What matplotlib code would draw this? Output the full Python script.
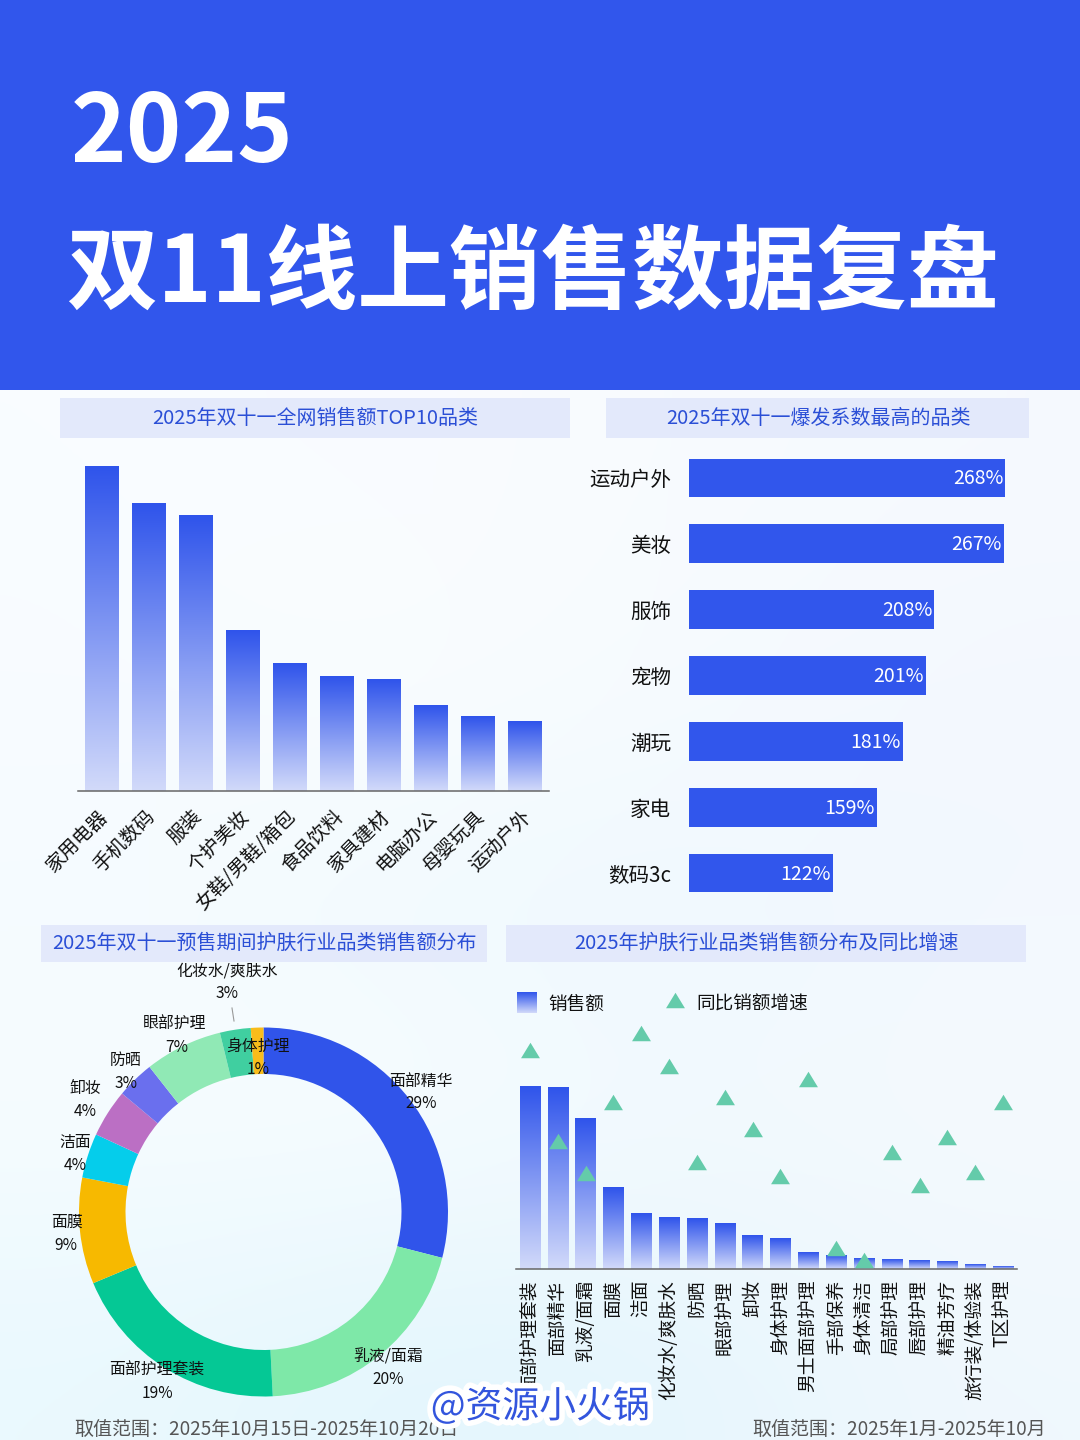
import numpy as np
import matplotlib
matplotlib.use("Agg")
import matplotlib.pyplot as plt
from matplotlib.colors import LinearSegmentedColormap, to_rgb
from matplotlib.patches import Rectangle
from matplotlib.transforms import offset_copy
import matplotlib.patheffects as pe

plt.rcParams['font.family'] = ['Noto Sans CJK SC', 'DejaVu Sans']

W, H = 1080, 1440
# ---------- data ----------
top10_names = ['家用电器', '手机数码', '服装', '个护美妆', '女鞋/男鞋/箱包', '食品饮料', '家具建材', '电脑办公', '母婴玩具', '运动户外']
top10_values = [100, 88.5, 84.8, 49.4, 39.3, 35.4, 34.4, 26.4, 22.8, 21.5]

burst_names = ['运动户外', '美妆', '服饰', '宠物', '潮玩', '家电', '数码3c']
burst_values = [268, 267, 208, 201, 181, 159, 122]

donut_names = ['面部精华', '乳液/面霜', '面部护理套装', '面膜', '洁面', '卸妆', '防晒', '眼部护理', '化妆水/爽肤水', '身体护理']
donut_values = [29, 20.2, 19.5, 9.3, 3.9, 4.2, 3.3, 6.8, 2.7, 1.1]
donut_pct = ['29%', '20%', '19%', '9%', '4%', '4%', '3%', '7%', '3%', '1%']
donut_colors = ['#3054EA', '#7EE8A8', '#05C895', '#F7B900', '#05CDEB', '#BB6FC4', '#6A6FEE', '#90E9B5', '#40CFA0', '#F9BC1A']

skin_names = ['面部护理套装', '面部精华', '乳液/面霜', '面膜', '洁面', '化妆水/爽肤水', '防晒', '眼部护理', '卸妆', '身体护理',
              '男士面部护理', '手部保养', '身体清洁', '局部护理', '唇部护理', '精油芳疗', '旅行装/体验装', 'T区护理']
skin_sales = [182.7, 181.7, 150.3, 81.7, 55.7, 51, 50.3, 46, 33.7, 31, 16.3, 13.3, 10.7, 9.7, 8.3, 7.7, 4.3, 2.7]
skin_growth = [219, 128, 95.7, 166.3, 235.7, 202.3, 106.7, 171.3, 139.7, 92.3, 189.7, 20.3, 8.7, 117, 84, 131.3, 97, 166.3]

BLUE = '#3156EC'
cmap = LinearSegmentedColormap.from_list('bar', ['#D2DAFA', '#2F54EB'])
grad = np.linspace(0, 1, 256).reshape(-1, 1)


def axpx(l, t, r, b, **kw):
    return fig.add_axes([l / W, 1 - b / H, (r - l) / W, (b - t) / H], **kw)


def grad_bars(ax, bars):
    for b in bars:
        x, y, w, h = b.get_x(), b.get_y(), b.get_width(), b.get_height()
        b.set_facecolor('none')
        b.set_edgecolor('none')
        ax.imshow(grad, extent=(x, x + w, y, y + h), origin='lower', aspect='auto', cmap=cmap, zorder=2)


fig = plt.figure(figsize=(W / 100, H / 100), dpi=100)

# ---------- background ----------
bg = axpx(0, 0, W, H, zorder=0)
bg_grid = np.array([[to_rgb(c) for c in row] for row in [
    ['#F9FCFF', '#FAFCFF', '#F8FBFF', '#F6FAFF'],
    ['#F8FCFF', '#FAFDFF', '#F6FBFF', '#F3F8FE'],
    ['#F5FBFF', '#F0FAFF', '#EEF8FE', '#F3F9FE'],
    ['#F7FCFF', '#F9FDFF', '#F3FAFE', '#F5FAFE'],
    ['#EAF9FE', '#E3F6FD', '#E6F6FD', '#F0F8FE'],
]])
bg.imshow(bg_grid, extent=(0, W, H, 390), aspect='auto', interpolation='bicubic')
bg.set_xlim(0, W)
bg.set_ylim(H, 0)
bg.axis('off')
bg.add_patch(Rectangle((0, 0), W, 390, color=BLUE, lw=0))
bands = [(60, 398, 570, 438), (606, 398, 1029, 438), (41, 925, 487, 962), (506, 925, 1026, 962)]
for l, t, r, b in bands:
    bg.add_patch(Rectangle((l, t), r - l, b - t, color='#E3E9FB', lw=0))

# ---------- chart 1 ----------
ax1 = axpx(78, 450, 549, 791, zorder=2)
ax1.patch.set_alpha(0)
x1 = np.arange(len(top10_names))
grad_bars(ax1, ax1.bar(x1, top10_values, width=0.72))
ax1.set_xlim(-0.5, 9.5)
ax1.set_ylim(0, 105)
ax1.set_yticks([])
ax1.set_xticks(x1)
ax1.set_xticklabels(top10_names, rotation=45, ha='right', va='center', rotation_mode='anchor', fontsize=14, color='#111111')
ax1.tick_params(axis='x', length=0, pad=16)
for lab in ax1.get_xticklabels():
    lab.set_transform(offset_copy(lab.get_transform(), fig=fig, x=3, y=0, units='dots'))
for s in ['top', 'left', 'right']:
    ax1.spines[s].set_visible(False)
ax1.spines['bottom'].set_color('#666666')
ax1.spines['bottom'].set_linewidth(1.1)

# ---------- chart 2 ----------
ax2 = axpx(689, 445, 1029, 906, zorder=2)
ax2.patch.set_alpha(0)
y2 = np.arange(len(burst_names))
ax2.barh(y2, burst_values, height=0.59, color=BLUE)
ax2.set_xlim(0, 340 / 1.18)
ax2.set_ylim(6.5, -0.5)
ax2.set_xticks([])
ax2.set_yticks(y2)
ax2.set_yticklabels(burst_names, fontsize=14.8, color='#111111')
ax2.tick_params(axis='y', length=0, pad=13)
for s in ax2.spines.values():
    s.set_visible(False)
for yy, v in zip(y2, burst_values):
    ax2.annotate(f'{v}%', (v, yy), xytext=(-1.5, -0.7), textcoords='offset points', ha='right', va='center', color='white', fontsize=14)

# ---------- donut ----------
ax3 = axpx(79, 1027.5, 448, 1396.5, zorder=2)
ax3.pie(donut_values, colors=donut_colors, startangle=90, counterclock=False, radius=1,
        wedgeprops=dict(width=1 - 138 / 184.5, linewidth=0))
ax3.set_xlim(-1, 1)
ax3.set_ylim(-1, 1)

# ---------- combo ----------
ax4 = axpx(516, 975, 1017, 1268.7, zorder=2)
ax4.patch.set_alpha(0)
x4 = np.arange(len(skin_names))
grad_bars(ax4, ax4.bar(x4, skin_sales, width=0.73))
ax4.set_xlim(-0.5, 17.5)
ax4.set_ylim(0, 293.7)
ax4.set_yticks([])
ax4.set_xticks(x4)
ax4.set_xticklabels(skin_names, rotation=90, ha='center', va='top', fontsize=13.5, color='#111111')
ax4.tick_params(axis='x', length=0, pad=8)
for s in ['top', 'left', 'right']:
    ax4.spines[s].set_visible(False)
ax4.spines['bottom'].set_color('#666666')
ax4.spines['bottom'].set_linewidth(1.1)
ax4b = ax4.twinx()
ax4b.set_ylim(0, 293.7)
ax4b.set_yticks([])
for s in ax4b.spines.values():
    s.set_visible(False)
tri = [(-1, -0.82), (1, -0.82), (0, 0.82)]
TRI = '#64CBAA'
ax4b.scatter(x4, skin_growth, marker=tri, s=185, color=TRI, linewidths=0, clip_on=False, zorder=5)

# ---------- text layer ----------
top = axpx(0, 0, W, H, zorder=10)
top.set_xlim(0, W)
top.set_ylim(H, 0)
top.axis('off')
top.patch.set_alpha(0)

top.text(71, 134, '2025', color='white', fontsize=68, fontweight='bold', ha='left', va='center')
top.text(66, 275, '双11线上销售数据复盘', color='white', fontsize=66, fontweight='bold', ha='left', va='center')

TBLUE = '#2B4FD6'
band_titles = ['2025年双十一全网销售额TOP10品类', '2025年双十一爆发系数最高的品类', '2025年双十一预售期间护肤行业品类销售额分布', '2025年护肤行业品类销售额分布及同比增速']
band_centers = [(315, 419), (818, 419), (264, 943), (766, 943)]
for s, (cx, cy) in zip(band_titles, band_centers):
    top.text(cx, cy, s, color=TBLUE, fontsize=14.4, ha='center', va='center')

label_pos = [(421, 1081), (388, 1357), (157, 1370), (67, 1222), (75, 1142), (85, 1088), (126, 1060), (175, 1024), (227, 971), (258, 1046)]
pct_pos = [(421, 1104), (388, 1380), (157, 1393), (66, 1246), (75, 1165), (85, 1112), (126, 1083), (177, 1047), (227, 994), (258, 1069)]
for n, p, a, b in zip(donut_names, donut_pct, label_pos, pct_pos):
    top.text(a[0], a[1], n, fontsize=11.4, ha='center', va='center', color='#111111')
    top.text(b[0], b[1], p, fontsize=11.2, ha='center', va='center', color='#111111')
top.plot([232, 234], [1008, 1021], color='#999999', lw=0.8)

# legend
lg = axpx(517, 992, 537, 1013, zorder=10)
lg.imshow(grad, origin='lower', aspect='auto', cmap=cmap)
lg.axis('off')
top.text(548, 1004.5, '销售额', fontsize=13.4, ha='left', va='center', color='#111111')
top.scatter([675], [1000], marker=tri, s=185, color=TRI, linewidths=0)
top.text(696, 1004.5, '同比销额增速', fontsize=13.4, ha='left', va='center', color='#111111')

# footers
top.text(74, 1429, '取值范围：2025年10月15日-2025年10月20日', fontsize=13.7, color='#555555', ha='left', va='center')
top.text(752, 1429, '取值范围：2025年1月-2025年10月', fontsize=13.7, color='#555555', ha='left', va='center')

# watermark
wm = top.text(540, 1407, '@资源小火锅', fontsize=26.5, color='#3355DD', ha='center', va='center')
wm.set_path_effects([pe.withStroke(linewidth=8, foreground='white')])

fig.savefig('out.png', dpi=100)
